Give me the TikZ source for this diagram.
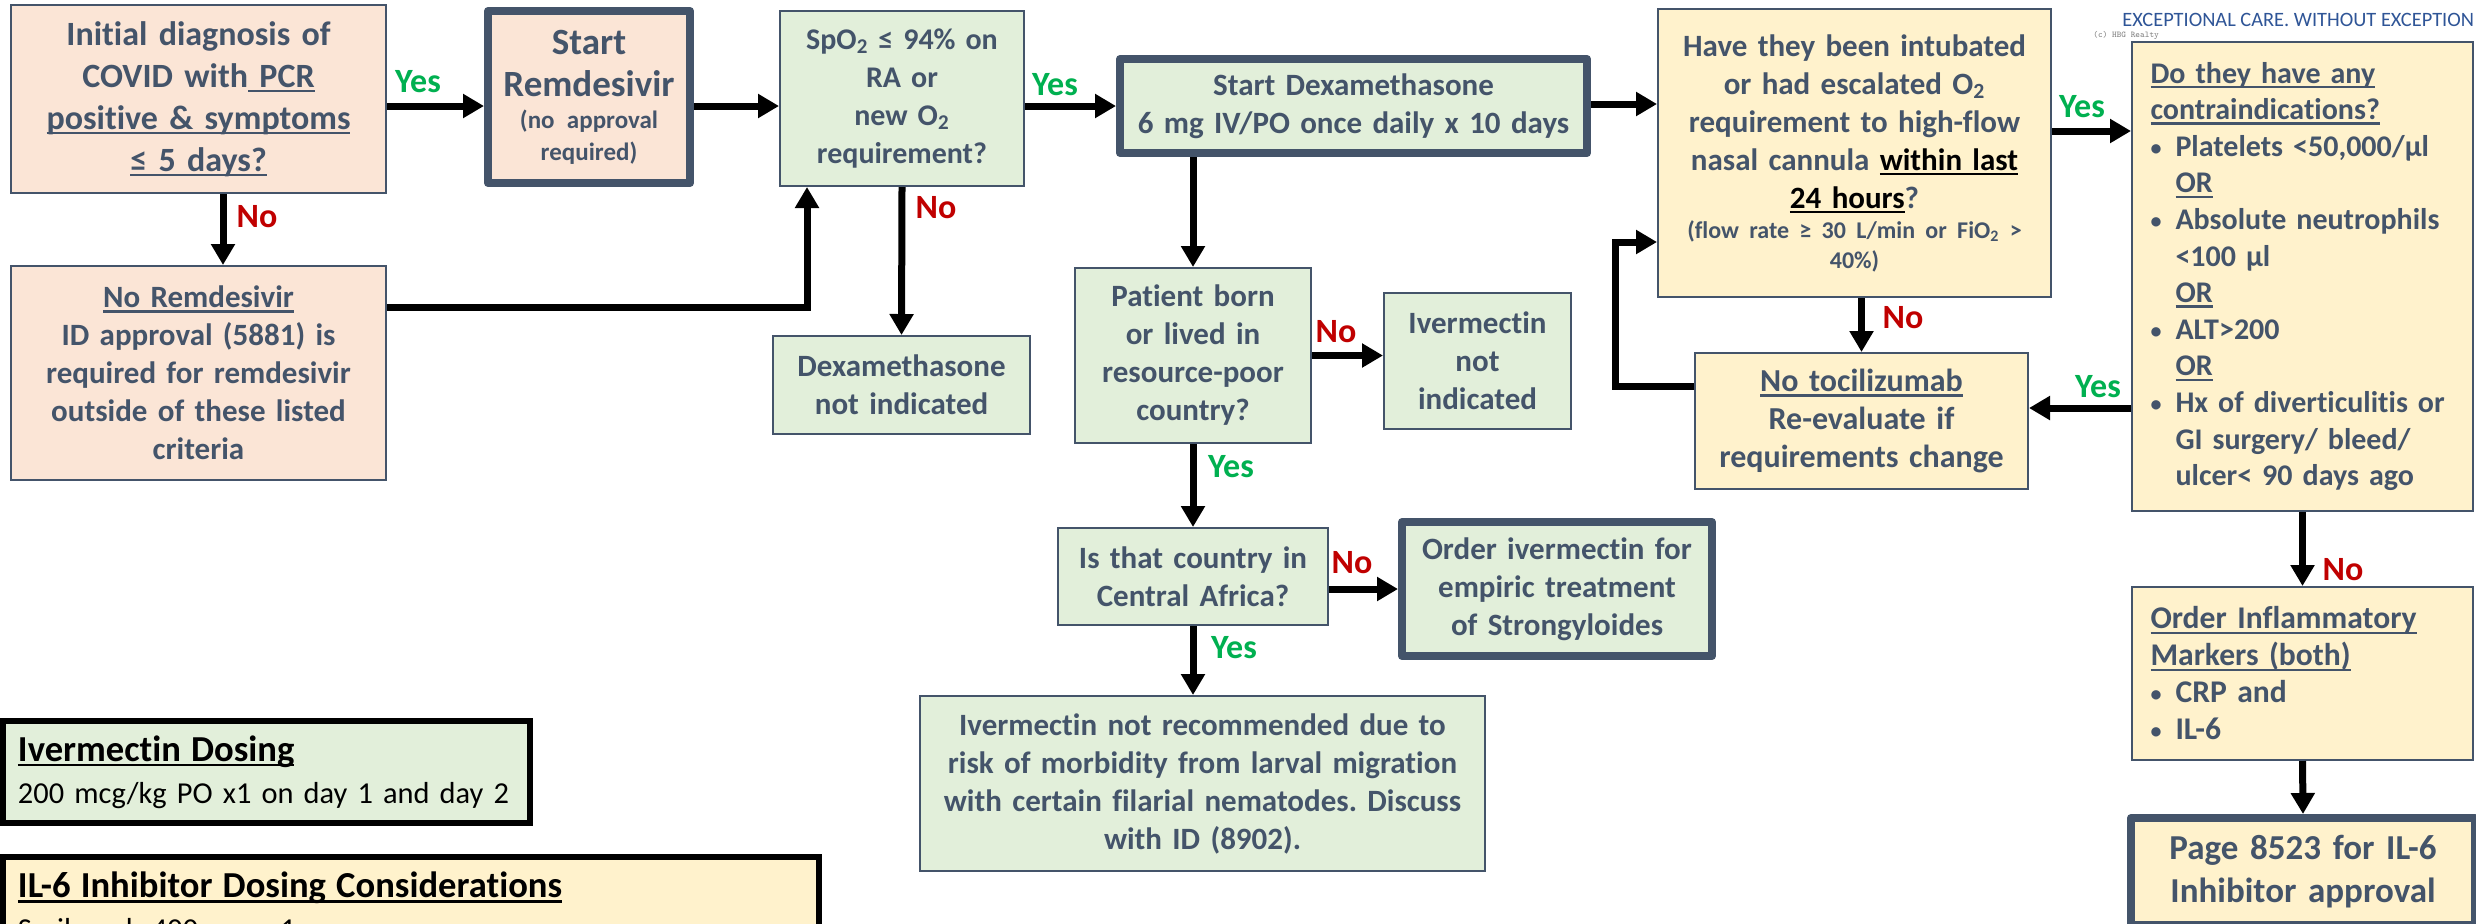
\documentclass[tikz,border=0pt]{standalone}
\usepackage{fontspec}
\setmainfont{Carlito}[Ligatures=NoCommon]
\usetikzlibrary{arrows.meta}
\setlength{\parindent}{0pt}
\frenchspacing

\definecolor{slate}{HTML}{44546A}
\definecolor{peach}{HTML}{FBE5D6}
\definecolor{sage}{HTML}{E2EFDA}
\definecolor{cream}{HTML}{FFF2CC}
\definecolor{yesgreen}{HTML}{00B050}
\definecolor{nored}{HTML}{C00000}
\definecolor{logoblue}{HTML}{2F5597}

\newcommand{\undl}[1]{\leavevmode\setbox0\hbox{#1}\rlap{\rule[-2.5pt]{\wd0}{1.2pt}}\box0}
\newcommand{\bitem}{\makebox[12.5pt][l]{\raisebox{0.6pt}{\fontsize{11}{11}\selectfont\textbullet}}}
\newcommand{\bskip}{\leavevmode\hspace*{12.5pt}}
\newcommand{\dosetitle}[1]{\undl{\bfseries\fontsize{18.3}{21}\selectfont #1}}

\tikzset{
  box/.style={draw=slate, line width=1pt, inner sep=0pt, align=center, text=slate,
    font=\bfseries\fontsize{15.5}{19}\selectfont},
  actbox/.style={box, line width=4pt, line join=round},
  dosebox/.style={draw=black, line width=3pt, inner sep=0pt, align=left, text=black,
    font=\fontsize{15.2}{21}\selectfont},
  arr/.style={line width=3.5pt, -{Triangle[length=10.5pt,width=11.5pt]}},
  yeslbl/.style={inner sep=0pt, text=yesgreen, font=\bfseries\fontsize{17}{20}\selectfont},
  nolbl/.style={inner sep=0pt, text=nored, font=\bfseries\fontsize{17}{20}\selectfont},
}

\begin{document}
\begin{tikzpicture}[x=0.5pt, y=-0.5pt]
  \useasboundingbox (0,0) rectangle (2476,923);
  \clip (0,0) rectangle (2476,923);
  \fill[white] (0,0) rectangle (2476,923);

  % Remdesivir
  \node[box, fill=peach, minimum width=187.5pt, minimum height=94pt, text width=182pt,
    font=\bfseries\fontsize{17}{21}\selectfont] (diag) at (198.5,99)
    {Initial diagnosis of\\COVID with\undl{ PCR}\\\undl{positive \& symptoms}\\\undl{≤ 5 days?}};
  \node[actbox, fill=peach, minimum width=101pt, minimum height=86pt, text width=97pt,
    font=\bfseries\fontsize{18.5}{21}\selectfont] (remdes) at (589,97)
    {Start\\Remdesivir\par{\fontsize{12.5}{16}\selectfont (no approval\\required)\par}};
  \node[box, fill=peach, minimum width=187.5pt, minimum height=107pt, text width=182pt] (noremdes) at (198.5,373)
    {\undl{No Remdesivir}\\ID approval (5881) is\\required for remdesivir\\outside of these listed\\criteria};

  % Dexamethasone
  \node[box, fill=sage, minimum width=122pt, minimum height=87.5pt, text width=117pt,
    font=\bfseries\fontsize{15}{19}\selectfont] (spo) at (902,98.5)
    {SpO\textsubscript{2} ≤ 94\% on\\RA or\\new O\textsubscript{2}\\requirement?};
  \node[actbox, fill=sage, minimum width=233.5pt, minimum height=47pt, text width=229pt] (dexa) at (1353.5,106)
    {Start Dexamethasone\\6 mg IV/PO once daily x 10 days};
  \node[box, fill=sage, minimum width=128.5pt, minimum height=49pt, text width=124pt] (nodexa) at (901.5,385)
    {Dexamethasone\\not indicated};

  % Ivermectin
  \node[box, fill=sage, minimum width=118pt, minimum height=87.5pt, text width=113pt] (born) at (1193,355.5)
    {Patient born\\or lived in\\resource-poor\\country?};
  \node[box, fill=sage, minimum width=93.5pt, minimum height=68pt, text width=89pt] (noiver) at (1477.5,361)
    {Ivermectin\\not\\indicated};
  \node[box, fill=sage, minimum width=135pt, minimum height=48.5pt, text width=130pt] (central) at (1193,576.5)
    {Is that country in\\Central Africa?};
  \node[actbox, fill=sage, minimum width=155pt, minimum height=67pt, text width=150pt] (orderiver) at (1557,589)
    {Order ivermectin for\\empiric treatment\\of Strongyloides};
  \node[box, fill=sage, minimum width=282.5pt, minimum height=87.5pt, text width=278pt] (notrec) at (1202.5,783.5)
    {Ivermectin not recommended due to\\risk of morbidity from larval migration\\with certain filarial nematodes. Discuss\\with ID (8902).};

  % IL-6 inhibitor
  \node[box, fill=cream, minimum width=196.5pt, minimum height=144pt, text width=192pt] (intub) at (1854.5,153)
    {Have they been intubated\\or had escalated O\textsubscript{2}\\requirement to high-flow\\nasal cannula \textcolor{black}{\undl{within last}}\\\textcolor{black}{\undl{24 hours}}?\par
     {\fontsize{12}{15}\selectfont (flow rate ≥ 30 L/min or FiO\textsubscript{2} >\\40\%)\par}};
  \node[box, fill=cream, minimum width=166.5pt, minimum height=68pt, text width=162pt,
    font=\bfseries\fontsize{16}{19}\selectfont] (notoci) at (1861.5,421)
    {\undl{No tocilizumab}\\Re-evaluate if\\requirements change};
  \node[box, fill=cream, minimum width=170.5pt, minimum height=234.5pt, text width=152pt, align=left,
    font=\bfseries\fontsize{15}{18.3}\selectfont] (contra) at (2302.5,276.5)
    {\undl{Do they have any}\\\undl{contraindications?}\\\bitem Platelets <50,000/µl\\\bskip\undl{OR}\\
     \bitem Absolute neutrophils\\\bskip<100 µl\\\bskip\undl{OR}\\\bitem ALT>200\\\bskip\undl{OR}\\
     \bitem Hx of diverticulitis or\\\bskip GI surgery/ bleed/\\\bskip ulcer< 90 days ago};
  \node[box, fill=cream, minimum width=170.5pt, minimum height=86.5pt, text width=152pt, align=left,
    font=\bfseries\fontsize{15.8}{18.5}\selectfont] (markers) at (2302.5,673.5)
    {\undl{Order Inflammatory}\\\undl{Markers (both)}\\\bitem CRP and\\\bitem IL-6};
  \node[actbox, fill=cream, minimum width=172pt, minimum height=53.5pt, text width=168pt,
    font=\bfseries\fontsize{17.5}{21.5}\selectfont] (page) at (2303,871.5)
    {Page 8523 for IL-6\\Inhibitor approval};

  % Dosing notes
  \node[dosebox, fill=sage, minimum width=263.5pt, minimum height=51pt, text width=248.5pt] (ivdose) at (266.5,772)
    {\dosetitle{Ivermectin Dosing}\\200 mcg/kg PO x1 on day 1 and day 2};
  \node[dosebox, fill=cream, minimum width=408pt, minimum height=51.5pt, text width=393pt] (ildose) at (411,908.5)
    {\dosetitle{IL-6 Inhibitor Dosing Considerations}\\Sarilumab 400 mg x 1};

  % Logo line
  \node[anchor=west, inner sep=0pt, text=logoblue, font=\fontsize{10.2}{11}\selectfont] (motto) at (2122,19.5)
    {EXCEPTIONAL CARE. WITHOUT EXCEPTION};
  \node[anchor=west, inner sep=0pt, text=gray, font=\ttfamily\fontsize{4.4}{5}\selectfont] (credit) at (2093,35)
    {(c) HBG Realty};

  % Arrows
  \draw[arr] ([yshift=-3.5pt]diag.east) -- ([yshift=-4.5pt]remdes.west);
  \draw[arr] ([xshift=12.25pt]diag.south) -- ([xshift=12.25pt]noremdes.north);
  \draw[arr] ([yshift=-4.5pt]remdes.east) -- ([yshift=-3.75pt]spo.west);
  \draw[arr] ([yshift=33pt]noremdes.east) -| ([xshift=-47.5pt]spo.south);
  \draw[arr] ([yshift=-3.75pt]spo.east) -- (dexa.west);
  \draw[arr] (spo.south) -- (nodexa.north);
  \draw[arr] (born.north |- dexa.south) -- (born.north);
  \draw[arr] (born.east) -- (noiver.west |- born.east);
  \draw[arr] (born.south) -- (central.north);
  \draw[arr] (central.east |- orderiver.west) -- (orderiver.west);
  \draw[arr] (central.south) -- (central.south |- notrec.north);
  \draw[arr] ([yshift=1pt]dexa.east) -- ([yshift=24.5pt]intub.west);
  \draw[arr] (notoci.north |- intub.south) -- (notoci.north);
  \draw[arr] ([yshift=11pt]intub.east) -- ([yshift=72.75pt]contra.west);
  \draw[arr] ([yshift=-65.75pt]contra.west) -- ([yshift=6.5pt]notoci.east);
  \draw[arr] ([yshift=17.5pt]notoci.west) -- ++(-79,0) |- ([yshift=-44.5pt]intub.west);
  \draw[arr] (contra.south) -- (markers.north);
  \draw[arr] (markers.south) -- (page.north);

  % Yes / No labels
  \node[yeslbl] (y1) at (418,82) {Yes};
  \node[nolbl] (n1) at (257,217) {No};
  \node[yeslbl] (y2) at (1055,85) {Yes};
  \node[nolbl] (n2) at (936,208) {No};
  \node[nolbl] (n3) at (1336,332) {No};
  \node[yeslbl] (y3) at (1231,467) {Yes};
  \node[nolbl] (n4) at (1352,563) {No};
  \node[yeslbl] (y4) at (1234,648) {Yes};
  \node[nolbl] (n5) at (1903,318) {No};
  \node[yeslbl] (y5) at (2082,107) {Yes};
  \node[yeslbl] (y6) at (2098,387) {Yes};
  \node[nolbl] (n6) at (2343,570) {No};
\end{tikzpicture}
\end{document}
